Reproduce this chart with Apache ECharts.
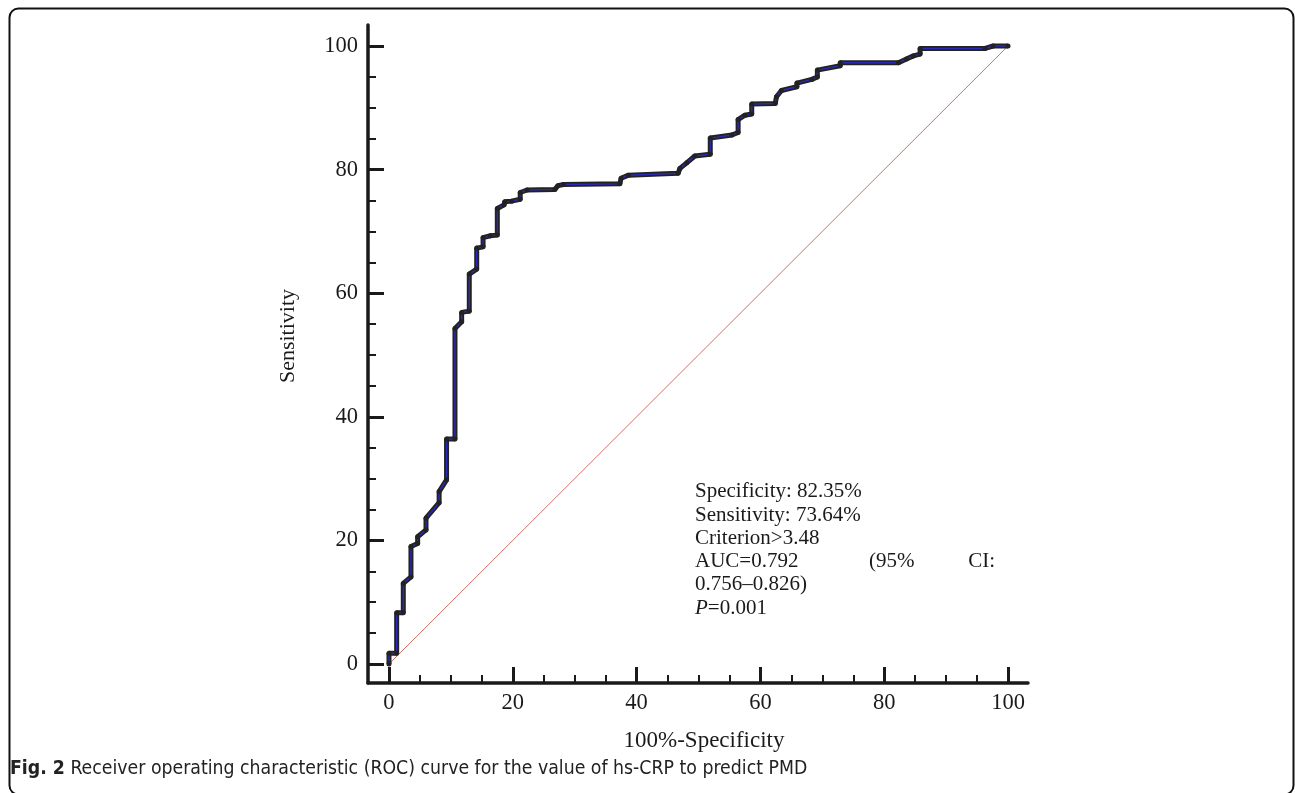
<!DOCTYPE html>
<html>
<head>
<meta charset="utf-8">
<script src="https://cdn.jsdelivr.net/npm/echarts@6/dist/echarts.min.js"></script>
<style>
    html, body {margin: 0; padding: 0; background: #fff;}
    #roc {width: 1295px; height: 793px;}
</style>
</head>
<body>
<div id="roc"></div>
<script>
// ROC points: [100%-Specificity, Sensitivity]
var rocPoints = [
    [0, 0], [0, 1.75], [1.24, 1.75], [1.24, 8.3], [2.31, 8.3], [2.31, 13.05],
    [3.55, 14.1], [3.55, 19.0], [4.63, 19.5], [4.63, 20.6], [5.98, 21.7], [5.98, 23.6],
    [8.1, 26.1], [8.1, 27.9], [9.3, 29.8], [9.3, 36.4], [10.66, 36.4], [10.66, 54.3],
    [11.74, 55.4], [11.74, 56.9], [12.97, 57.1], [12.97, 63.1], [14.17, 63.9], [14.17, 67.3],
    [15.2, 67.5], [15.2, 69.0], [16.4, 69.3], [17.5, 69.4], [17.5, 73.7], [18.6, 74.3],
    [18.7, 74.8], [19.8, 74.9], [21.2, 75.2], [21.2, 76.3], [22.3, 76.7], [26.8, 76.8],
    [27.3, 77.4], [28.2, 77.6], [37.3, 77.7], [37.5, 78.6], [38.7, 79.1], [46.7, 79.4],
    [47.0, 80.2], [48.1, 81.1], [49.4, 82.2], [51.9, 82.5], [51.9, 85.1], [55.4, 85.6],
    [56.4, 86.0], [56.4, 88.1], [57.5, 88.8], [58.6, 89.0], [58.6, 90.6], [62.4, 90.7],
    [62.6, 91.8], [63.4, 92.8], [65.9, 93.4], [65.9, 94.0], [68.3, 94.6], [69.2, 95.0],
    [69.2, 96.1], [72.9, 96.8], [72.9, 97.3], [82.3, 97.3], [83.6, 97.9], [84.7, 98.4],
    [85.8, 98.7], [85.8, 99.6], [96.3, 99.6], [97.6, 100], [100, 100]
];
var chanceLine = [[0, 0], [100, 100]];
var majorTicks = [0, 20, 40, 60, 80, 100];
var minorTicks = [5, 10, 15, 25, 30, 35, 45, 50, 55, 65, 70, 75, 85, 90, 95];
var noteLines = ['Specificity: 82.35%', 'Sensitivity: 73.64%', 'Criterion>3.48'];
var aucParts = ['AUC=0.792', '(95%', 'CI:'];
var ciText = '0.756\u20130.826)';
var pText = '=0.001';
var xName = '100%-Specificity';
var yName = 'Sensitivity';
var captionBold = 'Fig. 2';
var captionText = ' Receiver operating characteristic (ROC) curve for the value of hs-CRP to predict PMD';

var serif = "'Liberation Serif', 'Times New Roman', serif";
var sans = "'Liberation Sans Narrow', 'DejaVu Sans Condensed', sans-serif";
var ink = '#1a1a1a';

function axisPair(dim, min, max) {
    var main = {
        type: 'value', min: min, max: max,
        axisLine: {show: true, onZero: false, lineStyle: {color: ink, width: 3.5}},
        axisTick: {show: true, inside: true, length: 16, lineStyle: {color: ink, width: 3}, customValues: majorTicks},
        axisLabel: {show: true, customValues: majorTicks, color: ink, fontFamily: serif, fontSize: 22.5, margin: dim == 'x' ? 9 : 10},
        splitLine: {show: false}
    };
    var minor = {
        type: 'value', min: min, max: max,
        axisLine: {show: false, onZero: false},
        axisTick: {show: true, inside: true, length: 8, lineStyle: {color: ink, width: 2}, customValues: minorTicks},
        axisLabel: {show: false},
        splitLine: {show: false}
    };
    return [main, minor];
}

var noteGraphics = [];
var noteX = 695, noteY = 491.7, noteStep = 23.3;
noteLines.forEach(function (t, i) {
    noteGraphics.push({type: 'text', x: noteX, y: noteY + i * noteStep,
        style: {text: t, fill: ink, font: '21px ' + serif, verticalAlign: 'middle'}});
});
noteGraphics.push({type: 'text', x: noteX, y: noteY + 3 * noteStep,
    style: {text: aucParts[0], fill: ink, font: '21px ' + serif, verticalAlign: 'middle'}});
noteGraphics.push({type: 'text', x: 869, y: noteY + 3 * noteStep,
    style: {text: aucParts[1], fill: ink, font: '21px ' + serif, verticalAlign: 'middle'}});
noteGraphics.push({type: 'text', x: 995, y: noteY + 3 * noteStep,
    style: {text: aucParts[2], fill: ink, font: '21px ' + serif, verticalAlign: 'middle', align: 'right'}});
noteGraphics.push({type: 'text', x: noteX, y: noteY + 4 * noteStep,
    style: {text: ciText, fill: ink, font: '21px ' + serif, verticalAlign: 'middle'}});
noteGraphics.push({type: 'text', x: noteX, y: noteY + 5 * noteStep,
    style: {text: '{i|P}' + pText, fill: ink, font: '21px ' + serif, verticalAlign: 'middle',
        rich: {i: {fontStyle: 'italic', fontFamily: serif, fontSize: 21, fill: ink}}}});

var chart = echarts.init(document.getElementById('roc'));
chart.setOption({
    backgroundColor: '#fff',
    animation: false,
    grid: {left: 368, right: 267, top: 25, bottom: 110, outerBoundsMode: 'none'},
    xAxis: axisPair('x', -3.39, 103.23).map(function (a) { a.position = 'bottom'; return a; }),
    yAxis: axisPair('y', -3.07, 103.4).map(function (a) { a.position = 'left'; return a; }),
    graphic: [
        {type: 'rect', shape: {x: 9.5, y: 8.5, width: 1284, height: 786, r: 9},
            style: {fill: 'none', stroke: '#111', lineWidth: 2}},
        {type: 'text', x: 288, y: 336, rotation: Math.PI / 2,
            style: {text: yName, fill: ink, font: '22px ' + serif, align: 'center', verticalAlign: 'middle'}},
        {type: 'text', x: 704, y: 741,
            style: {text: xName, fill: ink, font: '23px ' + serif, align: 'center', verticalAlign: 'middle'}},
        {type: 'text', x: 10, y: 769,
            style: {text: '{b|' + captionBold + '}' + captionText, fill: '#222',
                font: '19.3px ' + sans, verticalAlign: 'middle',
                rich: {b: {fontWeight: 'bold', fontSize: 19.3, fontFamily: sans, fill: '#222'}}}}
    ].concat(noteGraphics),
    series: [
        {
            name: 'chance', type: 'line', data: chanceLine, symbol: 'none',
            lineStyle: {color: '#cf7466', width: 1}, z: 1
        },
        {
            name: 'rocEdge', type: 'line', data: rocPoints, symbol: 'none',
            lineStyle: {color: '#222', width: 5}, z: 2
        },
        {
            name: 'roc', type: 'line', data: rocPoints, symbol: 'circle', symbolSize: 5,
            itemStyle: {color: '#222'},
            lineStyle: {color: '#2a2ab8', width: 1.4}, z: 3
        }
    ]
});
</script>
</body>
</html>
